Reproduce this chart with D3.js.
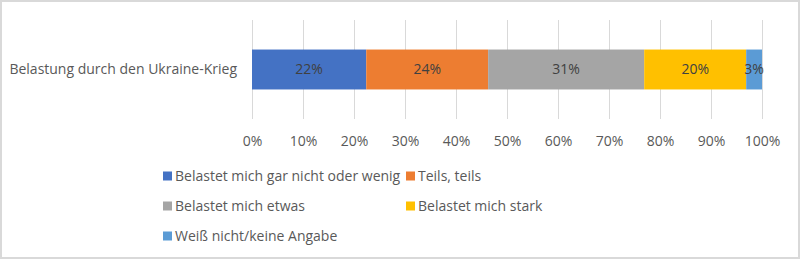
<!DOCTYPE html>
<html>
<head>
<meta charset="utf-8">
<script src="https://cdn.jsdelivr.net/npm/d3@7"></script>
<style>
    body { margin: 0; background: #fff; }
    text { font-family: "Open Sans", "Liberation Sans", sans-serif; }
</style>
</head>
<body>
<div id="wrapper"></div>
<script>
const categories = ["Belastung durch den Ukraine-Krieg"]
const seriesNames = [
    "Belastet mich gar nicht oder wenig",
    "Teils, teils",
    "Belastet mich etwas",
    "Belastet mich stark",
    "Weiß nicht/keine Angabe",
]
const seriesValues = [22.4, 23.9, 30.6, 20.0, 3.1]
const seriesLabels = ["22%", "24%", "31%", "20%", "3%"]
const seriesColors = ["#4472c4", "#ed7d31", "#a5a5a5", "#ffc000", "#5b9bd5"]
const tickValues = [0, 10, 20, 30, 40, 50, 60, 70, 80, 90, 100]

function drawChart() {
    let dimensions = {
        width: 800,
        height: 259,
        margin: {
            top: 20,
            right: 38,
            bottom: 140,
            left: 252,
        },
    }
    dimensions.boundedWidth = dimensions.width
        - dimensions.margin.left
        - dimensions.margin.right
    dimensions.boundedHeight = dimensions.height
        - dimensions.margin.top
        - dimensions.margin.bottom

    const wrapper = d3.select("#wrapper")
        .append("svg")
        .attr("width", dimensions.width)
        .attr("height", dimensions.height)

    // chart border
    wrapper.append("rect")
        .attr("x", 1)
        .attr("y", 1)
        .attr("width", dimensions.width - 2)
        .attr("height", dimensions.height - 2)
        .attr("fill", "#fff")
        .attr("stroke", "#d9d9d9")
        .attr("stroke-width", 2)

    const bounds = wrapper.append("g")
        .attr("transform", `translate(${dimensions.margin.left},${dimensions.margin.top})`)

    const xScaler = d3.scaleLinear()
        .domain([0, 100])
        .range([0, dimensions.boundedWidth])

    const yScaler = d3.scaleBand()
        .domain(categories)
        .range([0, dimensions.boundedHeight])
        .paddingInner(0.5)
        .paddingOuter(0.37)

    // gridlines
    bounds.append("g")
        .selectAll("line")
        .data(tickValues)
        .join("line")
        .attr("x1", d => xScaler(d) + 0.5)
        .attr("x2", d => xScaler(d) + 0.5)
        .attr("y1", 0)
        .attr("y2", dimensions.boundedHeight)
        .attr("stroke", "#d9d9d9")

    // stacked segments
    const stacked = []
    let acc = 0
    seriesValues.forEach((v, i) => {
        stacked.push({ x0: acc, x1: acc + v, label: seriesLabels[i], color: seriesColors[i] })
        acc += v
    })

    const segs = bounds.append("g")
        .selectAll("g")
        .data(stacked)
        .join("g")

    segs.append("rect")
        .attr("x", d => xScaler(d.x0))
        .attr("y", yScaler(categories[0]))
        .attr("width", d => xScaler(d.x1) - xScaler(d.x0))
        .attr("height", yScaler.bandwidth())
        .attr("fill", d => d.color)

    segs.append("text")
        .attr("x", d => xScaler((d.x0 + d.x1) / 2))
        .attr("y", yScaler(categories[0]) + yScaler.bandwidth() / 2)
        .attr("dy", "0.35em")
        .attr("text-anchor", "middle")
        .attr("fill", "#404040")
        .style("font-size", "14px")
        .text(d => d.label)

    // category label
    bounds.append("g")
        .selectAll("text")
        .data(categories)
        .join("text")
        .attr("x", -15)
        .attr("y", d => yScaler(d) + yScaler.bandwidth() / 2)
        .attr("dy", "0.35em")
        .attr("text-anchor", "end")
        .attr("fill", "#595959")
        .style("font-size", "14px")
        .text(d => d)

    // x axis
    const xAxisGen = d3.axisBottom(xScaler)
        .tickValues(tickValues)
        .tickSize(0)
        .tickPadding(17)
        .tickFormat(d => d + "%")
    const xAxis = bounds.append("g")
        .attr("transform", `translate(0,${dimensions.boundedHeight})`)
        .call(xAxisGen)
    xAxis.select(".domain").remove()
    xAxis.selectAll("text")
        .attr("fill", "#595959")
        .style("font-size", "14px")
        .style("font-family", null)

    // legend
    const legendCols = [163, 406]
    const legendRows = [176, 206, 236]
    const legend = wrapper.append("g")
        .selectAll("g")
        .data(seriesNames)
        .join("g")
        .attr("transform", (d, i) => `translate(${legendCols[i % 2]},${legendRows[Math.floor(i / 2)]})`)

    legend.append("rect")
        .attr("x", 0)
        .attr("y", -4.5)
        .attr("width", 9)
        .attr("height", 9)
        .attr("fill", (d, i) => seriesColors[i])

    legend.append("text")
        .attr("x", 12)
        .attr("y", 0)
        .attr("dy", "0.35em")
        .attr("fill", "#595959")
        .style("font-size", "14px")
        .text(d => d)
}

drawChart()
</script>
</body>
</html>
